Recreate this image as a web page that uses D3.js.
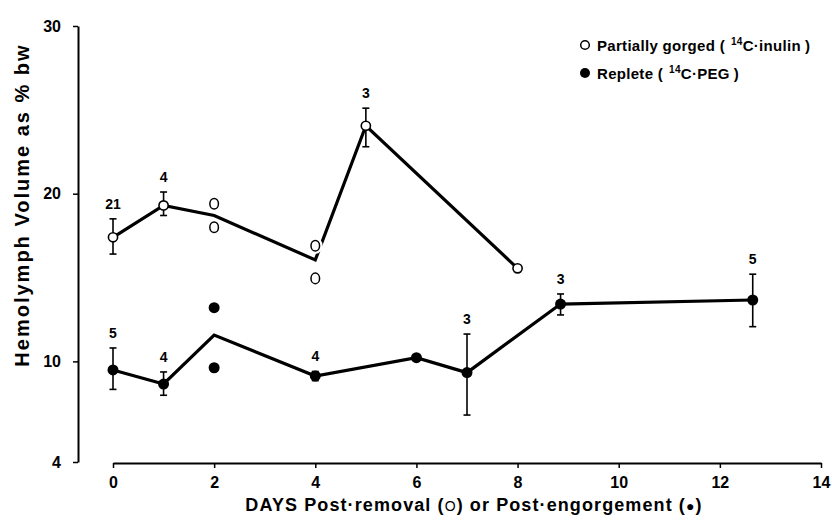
<!DOCTYPE html>
<html><head><meta charset="utf-8">
<script src="https://cdn.jsdelivr.net/npm/d3@7"></script>
<style>body{margin:0;background:#fff} svg{display:block}</style>
</head><body>
<svg id="chart" width="832" height="524"></svg>
<script>
// ---- data ----
const xTicks = [0, 2, 4, 6, 8, 10, 12, 14];
const yTicks = [4, 10, 20, 30];

const openDays  = [0, 1, 2, 4, 5, 8];
const openMeans = [17.4, 19.3, 18.7, 16.05, 24.05, 15.55];
const openLow   = [16.4, 18.7, null, null, 22.8, null];
const openHigh  = [18.5, 20.1, null, null, 25.1, null];
const openN     = ["21", "4", "", "", "3", ""];
const openMarker = [true, true, false, false, true, true];
const openIndivDays = [2, 2, 4, 4];
const openIndivVals = [19.4, 18.0, 16.9, 14.95];

const fillDays  = [0, 1, 2, 4, 6, 7, 8.85, 12.65];
const fillMeans = [9.49, 8.65, 11.57, 9.13, 10.22, 9.33, 13.42, 13.66];
const fillLow   = [8.33, 7.98, null, 8.85, null, 6.8, 12.77, 12.07];
const fillHigh  = [10.8, 9.37, null, 9.4, null, 11.63, 14.02, 15.2];
const fillN     = ["5", "4", "", "4", "", "3", "3", "5"];
const fillMarker = [true, true, false, true, true, true, true, true];
const fillIndivDays = [2, 2];
const fillIndivVals = [13.2, 9.62];

const legendLabels = ["Partially gorged", "Replete"];
const legendTracers = ["C\u00B7inulin", "C\u00B7PEG"];

// ---- drawing ----
const svg = d3.select("#chart");
const FONT = "'Liberation Sans', Arial, Helvetica, sans-serif";
const x = d3.scaleLinear().domain([0, 14]).range([113, 821]);
const y = d3.scaleLinear().domain([4, 30]).range([462, 26]);

// y axis
const yAxis = svg.append("g").attr("transform", "translate(78,0)")
  .call(d3.axisLeft(y).tickValues(yTicks).tickSize(5).tickSizeOuter(0).tickPadding(12));
yAxis.select(".domain").attr("stroke", "#000").attr("stroke-width", 2);
yAxis.selectAll(".tick line").attr("stroke", "#000").attr("stroke-width", 1.5);
yAxis.selectAll(".tick text").attr("font-family", FONT).attr("font-size", 16)
  .attr("font-weight", "bold").attr("fill", "#000");

// x axis
const xAxis = svg.append("g").attr("transform", "translate(0,463)")
  .call(d3.axisBottom(x).tickValues(xTicks).tickSize(5).tickSizeOuter(0).tickPadding(9));
xAxis.select(".domain").attr("stroke", "#000").attr("stroke-width", 2);
xAxis.selectAll(".tick line").attr("stroke", "#000").attr("stroke-width", 1.5);
xAxis.selectAll(".tick text").attr("font-family", FONT).attr("font-size", 16)
  .attr("font-weight", "bold").attr("fill", "#000");

// axis titles
svg.append("text")
  .attr("transform", "translate(29,205) rotate(-90)")
  .attr("text-anchor", "middle")
  .attr("font-family", FONT).attr("font-size", 20).attr("font-weight", "bold")
  .attr("letter-spacing", 2)
  .text("Hemolymph Volume as % bw");

const xt = svg.append("text")
  .attr("x", 474).attr("y", 511).attr("text-anchor", "middle")
  .attr("font-family", FONT).attr("font-size", 18).attr("font-weight", "bold")
  .attr("letter-spacing", 1.1);
xt.append("tspan").text("DAYS Post\u00B7removal (");
xt.append("tspan").attr("font-size", 14).attr("font-weight", "normal").text("O");
xt.append("tspan").text(") or Post\u00B7engorgement (");
xt.append("tspan").attr("font-size", 14).text("\u25CF");
xt.append("tspan").text(")");

function drawSeries(days, means, low, high, ns, marker, filled) {
  const pts = days.map((d, i) => ({d, m: means[i], lo: low[i], hi: high[i], n: ns[i], mk: marker[i]}));
  svg.append("path").datum(pts)
    .attr("fill", "none").attr("stroke", "#000").attr("stroke-width", 3.2)
    .attr("stroke-linejoin", "miter")
    .attr("d", d3.line().x(p => x(p.d)).y(p => y(p.m)));
  const eb = pts.filter(p => p.lo !== null);
  const g = svg.append("g").attr("stroke", "#000").attr("stroke-width", 1.6);
  g.selectAll(".v").data(eb).join("line")
    .attr("x1", p => x(p.d)).attr("x2", p => x(p.d))
    .attr("y1", p => y(p.lo)).attr("y2", p => y(p.hi));
  g.selectAll(".t").data(eb).join("line")
    .attr("x1", p => x(p.d) - 3.5).attr("x2", p => x(p.d) + 3.5)
    .attr("y1", p => y(p.hi)).attr("y2", p => y(p.hi));
  g.selectAll(".b").data(eb).join("line")
    .attr("x1", p => x(p.d) - 3.5).attr("x2", p => x(p.d) + 3.5)
    .attr("y1", p => y(p.lo)).attr("y2", p => y(p.lo));
  svg.append("g").selectAll("circle").data(pts.filter(p => p.mk)).join("circle")
    .attr("cx", p => x(p.d)).attr("cy", p => y(p.m))
    .attr("r", filled ? 5.5 : 4.6)
    .attr("fill", filled ? "#000" : "#fff")
    .attr("stroke", "#000").attr("stroke-width", filled ? 0 : 1.6);
  svg.append("g").selectAll("text").data(pts.filter(p => p.n !== "")).join("text")
    .attr("x", p => x(p.d)).attr("y", p => y(p.hi) - 10)
    .attr("text-anchor", "middle")
    .attr("font-family", FONT).attr("font-size", 14).attr("font-weight", "bold")
    .text(p => p.n);
}

drawSeries(openDays, openMeans, openLow, openHigh, openN, openMarker, false);
drawSeries(fillDays, fillMeans, fillLow, fillHigh, fillN, fillMarker, true);

// individual points
const indO = svg.append("g").selectAll("g").data(openIndivDays.map((d, i) => ({d, v: openIndivVals[i]})))
  .join("g");
indO.append("ellipse")
  .attr("cx", p => x(p.d)).attr("cy", p => y(p.v))
  .attr("rx", 4.3).attr("ry", 5.3)
  .attr("fill", "#fff").attr("stroke", "#fff").attr("stroke-width", 6);
indO.append("ellipse")
  .attr("cx", p => x(p.d)).attr("cy", p => y(p.v))
  .attr("rx", 4.3).attr("ry", 5.3)
  .attr("fill", "#fff").attr("stroke", "#000").attr("stroke-width", 1.5);
svg.append("g").selectAll("circle").data(fillIndivDays.map((d, i) => ({d, v: fillIndivVals[i]})))
  .join("circle")
  .attr("cx", p => x(p.d)).attr("cy", p => y(p.v))
  .attr("r", 5.5).attr("fill", "#000");

// legend
const legY = [45, 73];
legendLabels.forEach((lab, i) => {
  const cy = legY[i];
  svg.append("circle").attr("cx", 585).attr("cy", cy)
    .attr("r", i === 0 ? 4.3 : 5)
    .attr("fill", i === 0 ? "#fff" : "#000")
    .attr("stroke", "#000").attr("stroke-width", i === 0 ? 1.5 : 0);
  const t = svg.append("text").attr("x", 597).attr("y", cy + 5.5)
    .attr("font-family", FONT).attr("font-size", 15).attr("font-weight", "bold")
    .attr("letter-spacing", 0.3);
  t.append("tspan").text(lab + " (");
  t.append("tspan").attr("font-size", 10).attr("dx", 6).attr("dy", -6).text("14");
  t.append("tspan").attr("dy", 6).text(legendTracers[i]);
  t.append("tspan").attr("dx", 4).text(")");
});
</script>
</body></html>
